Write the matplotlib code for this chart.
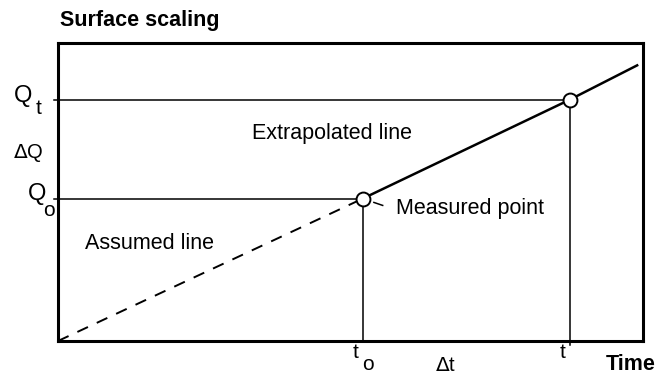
import matplotlib
matplotlib.use("Agg")
import matplotlib.pyplot as plt

plt.rcParams['font.family'] = ['Liberation Sans', 'DejaVu Sans']

# schematic values (arbitrary units)
t_meas = 5.21      # t_o
Q_meas = 4.78      # Q_o
t_late = 8.75      # t
Q_late = 8.10      # Q_t
t_end = 9.90
Q_end = 9.25

assumed_x = [0.0, t_meas]
assumed_y = [0.0, Q_meas]
extrap_x = [t_meas, t_late, t_end]
extrap_y = [Q_meas, Q_late, Q_end]

fig = plt.figure(figsize=(6.58, 3.78), dpi=100)
ax = fig.add_axes([58 / 658, 37 / 378, 585 / 658, 298 / 378])
ax.set_xlim(0, 10)
ax.set_ylim(0, 10)
ax.set_xticks([])
ax.set_yticks([])
for s in ax.spines.values():
    s.set_linewidth(2.2)

# assumed (dashed) and extrapolated line
ax.plot(assumed_x, assumed_y, color='black', lw=1.4, ls=(0, (6, 5)))
ax.plot(extrap_x, extrap_y, color='black', lw=1.8)

# guide lines to the axes
ax.plot([-0.06, t_meas], [Q_meas, Q_meas], color='black', lw=1.1, clip_on=False)
ax.plot([t_meas, t_meas], [Q_meas, 0], color='black', lw=1.1)
ax.plot([-0.06, t_late], [Q_late, Q_late], color='black', lw=1.1, clip_on=False)
ax.plot([t_late, t_late], [Q_late, -0.15], color='black', lw=1.1, clip_on=False)

# the two points
ax.plot([t_meas, t_late], [Q_meas, Q_late], 'o', ms=10, mfc='white',
        mec='black', mew=1.4, zorder=5)

# leader for "Measured point"
ax.plot([5.4, 5.55], [4.65, 4.55], color='black', lw=1.1)

fs = 15.5
ax.text(4.68, 6.95, 'Extrapolated line', fontsize=fs, ha='center', va='center')
ax.text(5.78, 4.45, 'Measured point', fontsize=fs, ha='left', va='center')
ax.text(1.56, 3.26, 'Assumed line', fontsize=fs, ha='center', va='center')

# titles
ax.text(0.03, 10.77, 'Surface scaling', fontsize=fs, fontweight='bold',
        ha='left', va='center')
ax.text(9.79, -0.78, 'Time', fontsize=fs, fontweight='bold', ha='center',
        va='center')

# y-axis labels
ax.text(-0.60, 8.22, 'Q', fontsize=17, ha='center', va='center')
ax.text(-0.33, 7.80, 't', fontsize=15, ha='center', va='center')
ax.text(-0.51, 6.31, r'$\Delta$Q', fontsize=14.5, ha='center', va='center')
ax.text(-0.36, 4.92, 'Q', fontsize=17, ha='center', va='center')
ax.text(-0.16, 4.38, 'o', fontsize=15, ha='center', va='center')

# x-axis labels
ax.text(5.08, -0.40, 't', fontsize=15, ha='center', va='center')
ax.text(5.30, -0.78, 'o', fontsize=15, ha='center', va='center')
ax.text(6.62, -0.82, r'$\Delta$t', fontsize=14.5, ha='center', va='center')
ax.text(8.62, -0.40, 't', fontsize=15, ha='center', va='center')

fig.savefig('out.png', dpi=100)
